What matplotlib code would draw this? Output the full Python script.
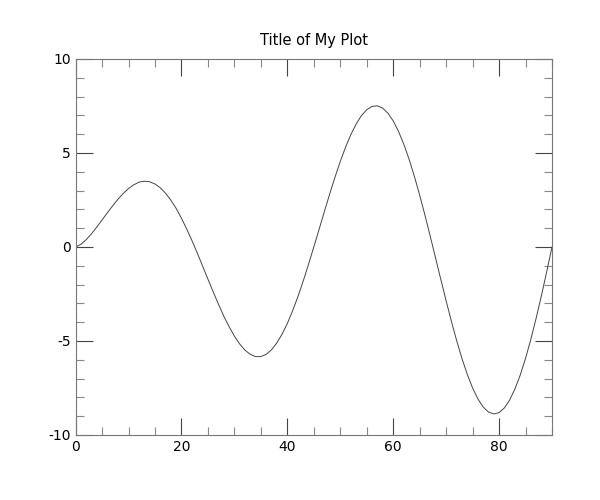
import matplotlib
matplotlib.use("Agg")
import matplotlib.pyplot as plt
from matplotlib.ticker import MultipleLocator

plt.rcParams["axes.unicode_minus"] = False

# curve values, one per x unit
x_values = list(range(0, 91))
y_values = [
    0.00, 0.14, 0.39, 0.70, 1.06, 1.44, 1.82, 2.19, 2.54, 2.85,
    3.11, 3.31, 3.45, 3.50, 3.47, 3.35, 3.15, 2.86, 2.49, 2.05,
    1.53, 0.95, 0.33, -0.33, -1.02, -1.71, -2.39, -3.05, -3.68, -4.24,
    -4.74, -5.16, -5.49, -5.71, -5.83, -5.83, -5.71, -5.47, -5.11, -4.64,
    -4.07, -3.39, -2.64, -1.81, -0.92, 0.00, 0.94, 1.89, 2.82, 3.71,
    4.55, 5.31, 5.98, 6.54, 6.99, 7.30, 7.48, 7.51, 7.39, 7.12,
    6.71, 6.15, 5.47, 4.67, 3.76, 2.76, 1.69, 0.57, -0.58, -1.73,
    -2.86, -3.96, -4.99, -5.94, -6.78, -7.50, -8.08, -8.51, -8.78, -8.88,
    -8.81, -8.56, -8.14, -7.55, -6.81, -5.93, -4.91, -3.79, -2.59, -1.31,
    0.00,
]

fig = plt.figure(figsize=(6, 5), dpi=100)
ax = fig.add_axes([0.126, 0.13, 0.794, 0.752])

ax.plot(x_values, y_values, color="#444444", linewidth=0.7)

ax.set_xlim(0, 90)
ax.set_ylim(-10, 10)
ax.xaxis.set_major_locator(MultipleLocator(20))
ax.xaxis.set_minor_locator(MultipleLocator(5))
ax.yaxis.set_major_locator(MultipleLocator(5))
ax.yaxis.set_minor_locator(MultipleLocator(1))

ax.tick_params(which="both", direction="in", top=True, right=True,
               labelsize=10, width=0.8)
ax.tick_params(which="major", length=12, color="#444444")
ax.tick_params(which="minor", length=6, color="#888888")
for s in ax.spines.values():
    s.set_color("#777777")
    s.set_linewidth(0.8)

ax.set_title("Title of My Plot", fontsize=10.5, pad=10)

fig.savefig("out.png")
